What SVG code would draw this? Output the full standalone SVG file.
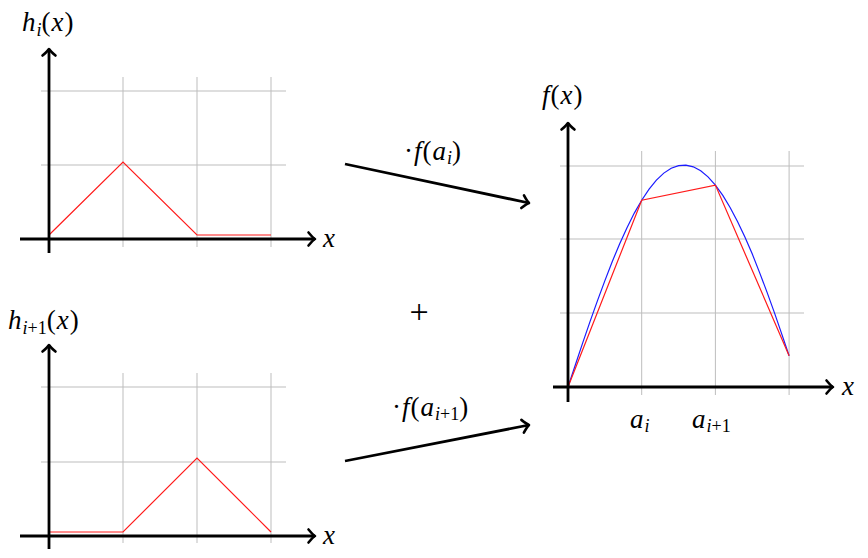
<svg xmlns="http://www.w3.org/2000/svg" width="868" height="558" viewBox="0 0 868 558">
<style>
.grid{stroke:#bdbdbd;stroke-width:1;fill:none}
.axis{stroke:#000;stroke-width:2.8;fill:none}
.red{stroke:#ff1a1a;stroke-width:1.2;fill:none;stroke-linejoin:miter}
.blue{stroke:#1a1aff;stroke-width:1.2;fill:none}
.conn{stroke:#000;stroke-width:2.8;fill:none}
text{font-family:"Liberation Serif","DejaVu Serif",serif;font-size:27px;letter-spacing:1px;fill:#000}
.it{font-style:italic}
.up{font-style:normal}
.sub{font-size:18px;letter-spacing:0}
</style>
<defs>
<marker id="arr" markerUnits="userSpaceOnUse" viewBox="-10 -10 20 20" markerWidth="20" markerHeight="20" refX="0" refY="0" orient="auto" overflow="visible">
<path d="M-6.5,-6.5 Q-2,-1.2 0,0 Q-2,1.2 -6.5,6.5" fill="none" stroke="#000" stroke-width="2.6" stroke-linecap="round" stroke-linejoin="round"/>
</marker>
</defs>

<g id="plot-hi">
<path class="grid" d="M123,77V247M197,77V247M271,77V247M41,91H286M41,165H286M41,239H286"/>
<polyline class="red" points="49,235 123,162 197,235 271,235"/>
<line class="axis" x1="49" y1="253" x2="49" y2="49" marker-end="url(#arr)"/>
<line class="axis" x1="20" y1="239" x2="315" y2="239" marker-end="url(#arr)"/>
<text x="22" y="31" class="it">h<tspan class="sub" dy="5">i</tspan><tspan class="up" dy="-5">(</tspan>x<tspan class="up">)</tspan></text>
<text x="323" y="247" class="it">x</text>
</g>

<g id="plot-hi1">
<path class="grid" d="M123,373V543M197,373V543M271,373V543M41,387H286M41,462H286M41,536H286"/>
<polyline class="red" points="49,532 123,532 197,458 271,532"/>
<line class="axis" x1="49" y1="549" x2="49" y2="345" marker-end="url(#arr)"/>
<line class="axis" x1="20" y1="536" x2="315" y2="536" marker-end="url(#arr)"/>
<text x="8" y="329" class="it">h<tspan class="sub" dy="5">i<tspan class="up">+1</tspan></tspan><tspan class="up" dy="-5">(</tspan>x<tspan class="up">)</tspan></text>
<text x="323" y="544" class="it">x</text>
</g>

<g id="plot-f">
<path class="grid" d="M641.7,151V395M715.4,151V395M789.1,151V395M560,166H804M560,239H804M560,313H804"/>
<polyline class="blue" points="568,387 575.4,364.8 582.7,342.9 590.1,321.4 597.5,300.6 604.9,280.6 612.2,261.7 619.6,244 627,227.7 634.3,213.1 641.7,200.2 649.1,189.2 656.4,180.1 663.8,173.1 671.2,168.2 678.6,165.6 685.9,165.1 693.3,166.8 700.7,170.8 708,176.9 715.4,185.1 722.8,195.4 730.1,207.5 737.5,221.5 744.9,237 752.3,254.1 759.6,272.6 767,292.1 774.4,312.6 781.7,333.9 789.1,355.7"/>
<polyline class="red" points="568,387 641.7,200.2 715.4,185.1 789.1,355.7"/>
<line class="axis" x1="568" y1="402" x2="568" y2="123" marker-end="url(#arr)"/>
<line class="axis" x1="553" y1="387" x2="833" y2="387" marker-end="url(#arr)"/>
<text x="542" y="104" class="it">f<tspan class="up">(</tspan>x<tspan class="up">)</tspan></text>
<text x="842" y="395" class="it">x</text>
<text x="630" y="428" class="it">a<tspan class="sub" dy="4">i</tspan></text>
<text x="692" y="428" class="it">a<tspan class="sub" dy="4">i<tspan class="up">+1</tspan></tspan></text>
</g>

<g id="plus">
<text x="419" y="323" class="up" text-anchor="middle" style="font-size:34px;letter-spacing:0">+</text>
</g>

<g id="connectors">
<line class="conn" x1="345" y1="164" x2="529" y2="203" marker-end="url(#arr)"/>
<line class="conn" x1="345" y1="461" x2="529" y2="425" marker-end="url(#arr)"/>
<text x="404" y="160"><tspan class="up">·</tspan><tspan class="it">f</tspan><tspan class="up">(</tspan><tspan class="it">a</tspan><tspan class="sub it" dy="4">i</tspan><tspan class="up" dy="-4">)</tspan></text>
<text x="392" y="416"><tspan class="up">·</tspan><tspan class="it">f</tspan><tspan class="up">(</tspan><tspan class="it">a</tspan><tspan class="sub it" dy="4">i<tspan class="up">+1</tspan></tspan><tspan class="up" dy="-4">)</tspan></text>
</g>
</svg>
